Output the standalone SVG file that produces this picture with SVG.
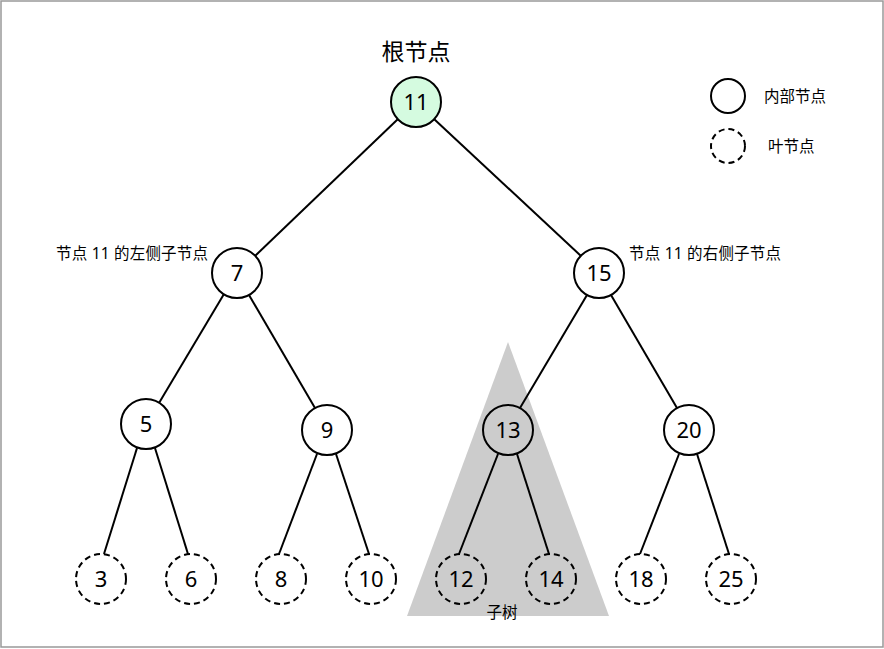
<svg xmlns="http://www.w3.org/2000/svg" width="884" height="649" viewBox="0 0 884 649">
<style>
.n{fill:#fff;stroke:#000;stroke-width:2}
.leaf{fill:none;stroke:#000;stroke-width:2;stroke-dasharray:6 4}
.t{font-family:"Noto Sans","Noto Sans CJK SC",sans-serif;font-size:22px;fill:#000;text-anchor:middle}
.s{font-family:"Noto Sans","Noto Sans CJK SC",sans-serif;font-size:15.5px;fill:#000}
.e line{stroke:#000;stroke-width:2}
</style>
<rect x="1" y="1" width="882" height="646" fill="#fff" stroke="#999" stroke-width="1.5"/>
<polygon points="508,342 407,616 609,616" fill="#cccccc"/>
<text class="s" x="502" y="618" text-anchor="middle">子树</text>
<g id="connectors" class="e">
<line x1="398" y1="119" x2="255" y2="256"/>
<line x1="434" y1="119" x2="581" y2="256"/>
<line x1="224" y1="294" x2="159" y2="403"/>
<line x1="249" y1="295" x2="315" y2="408"/>
<line x1="587" y1="295" x2="520" y2="408"/>
<line x1="611" y1="295" x2="677" y2="408"/>
<line x1="137" y1="448" x2="104" y2="554"/>
<line x1="155" y1="448" x2="188" y2="554"/>
<line x1="317" y1="454" x2="279" y2="554"/>
<line x1="336" y1="454" x2="369" y2="554"/>
<line x1="498" y1="454" x2="459" y2="554"/>
<line x1="517" y1="454" x2="549" y2="554"/>
<line x1="679" y1="454" x2="640" y2="554"/>
<line x1="697" y1="454" x2="729" y2="554"/>
</g>
<text class="t" x="416" y="60" style="font-size:23px">根节点</text>
<g id="n11"><circle cx="416" cy="102" r="25" fill="#d5fbe0" stroke="#000" stroke-width="2"/><text class="t" x="416" y="110">11</text></g>
<g id="n7"><circle class="n" cx="237" cy="273" r="25"/><text class="t" x="237" y="281">7</text></g>
<g id="n15"><circle class="n" cx="599" cy="273" r="25"/><text class="t" x="599" y="281">15</text></g>
<g id="n5"><circle class="n" cx="146" cy="424" r="25"/><text class="t" x="146" y="432">5</text></g>
<g id="n9"><circle class="n" cx="327" cy="430" r="25"/><text class="t" x="327" y="438">9</text></g>
<g id="n13"><circle class="n" cx="508" cy="430" r="25" style="fill:none"/><text class="t" x="508" y="438">13</text></g>
<g id="n20"><circle class="n" cx="689" cy="430" r="25"/><text class="t" x="689" y="438">20</text></g>
<g id="n3"><circle class="leaf" cx="101" cy="579" r="25"/><text class="t" x="101" y="587">3</text></g>
<g id="n6"><circle class="leaf" cx="191" cy="579" r="25"/><text class="t" x="191" y="587">6</text></g>
<g id="n8"><circle class="leaf" cx="281" cy="579" r="25"/><text class="t" x="281" y="587">8</text></g>
<g id="n10"><circle class="leaf" cx="371" cy="579" r="25"/><text class="t" x="371" y="587">10</text></g>
<g id="n12"><circle class="leaf" cx="461" cy="579" r="25"/><text class="t" x="461" y="587">12</text></g>
<g id="n14"><circle class="leaf" cx="551" cy="579" r="25"/><text class="t" x="551" y="587">14</text></g>
<g id="n18"><circle class="leaf" cx="641" cy="579" r="25"/><text class="t" x="641" y="587">18</text></g>
<g id="n25"><circle class="leaf" cx="731" cy="579" r="25"/><text class="t" x="731" y="587">25</text></g>
<text class="s" x="56" y="259" textLength="152">节点 11 的左侧子节点</text>
<text class="s" x="629" y="259" textLength="152">节点 11 的右侧子节点</text>
<g id="legend">
<circle class="n" cx="728" cy="96" r="17"/>
<text class="s" x="764" y="102">内部节点</text>
<circle class="leaf" cx="728" cy="146" r="17"/>
<text class="s" x="768" y="152">叶节点</text>
</g>
</svg>
